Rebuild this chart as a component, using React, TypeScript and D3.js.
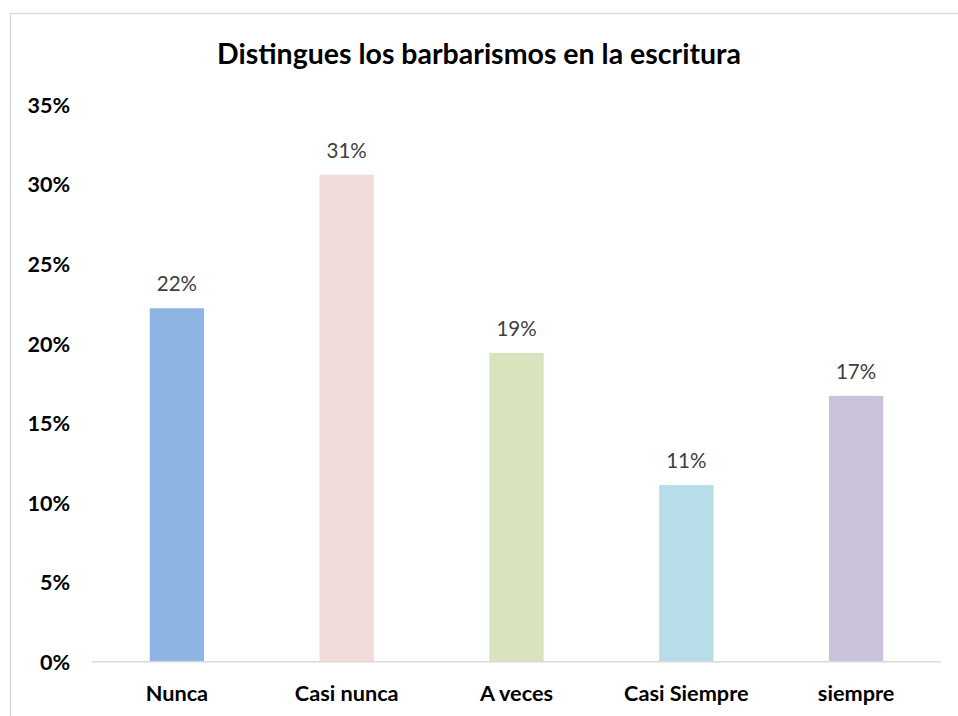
import React from "react";
import * as d3 from "d3";

const categories = ["Nunca", "Casi nunca", "A veces", "Casi Siempre", "siempre"];
const values = [22.2, 30.6, 19.4, 11.1, 16.7];
const dataLabels = ["22%", "31%", "19%", "11%", "17%"];
const colors = ["#8EB4E3", "#F2DCDB", "#D7E4BD", "#B7DEE8", "#CCC1DA"];
const yTicks = [0, 5, 10, 15, 20, 25, 30, 35];
const title = "Distingues los barbarismos en la escritura";

const W = 958;
const H = 716;
const FONT = "Lato, 'Open Sans', 'Liberation Sans', sans-serif";

export default function App() {
  const x = d3
    .scaleBand<string>()
    .domain(categories)
    .range([92, 941])
    .paddingInner(0.68)
    .paddingOuter(0.34);
  const y = d3.scaleLinear().domain([0, 35]).range([661.7, 104.5]);

  return (
    <svg
      width={W}
      height={H}
      style={{ position: "absolute", left: 0, top: 0, background: "#fff" }}
    >
      <rect x={0} y={0} width={W} height={H} fill="#fff" />
      <rect
        x={10.5}
        y={13.5}
        width={W + 20}
        height={H + 20}
        fill="none"
        stroke="#d9d9d9"
        strokeWidth={1.3}
      />
      <text
        x={479}
        y={63.5}
        textAnchor="middle"
        fontFamily={FONT}
        fontWeight="bold"
        fontSize={28.5}
        fill="#000"
      >
        {title}
      </text>
      {yTicks.map((t) => (
        <text
          key={t}
          x={70}
          y={y(t) + 8.3}
          textAnchor="end"
          fontFamily={FONT}
          fontWeight="bold"
          fontSize={21.5}
          fill="#000"
        >
          {t + "%"}
        </text>
      ))}
      {categories.map((c, i) => (
        <g key={c}>
          <rect
            x={x(c)}
            y={y(values[i])}
            width={x.bandwidth()}
            height={y(0) - y(values[i])}
            fill={colors[i]}
          />
          <text
            x={(x(c) as number) + x.bandwidth() / 2}
            y={y(values[i]) - 17}
            textAnchor="middle"
            fontFamily={FONT}
            fontSize={20.5}
            fill="#404040"
          >
            {dataLabels[i]}
          </text>
          <text
            x={(x(c) as number) + x.bandwidth() / 2}
            y={700.7}
            textAnchor="middle"
            fontFamily={FONT}
            fontWeight="bold"
            fontSize={21.7}
            fill="#000"
          >
            {c}
          </text>
        </g>
      ))}
      <line
        x1={92}
        x2={941}
        y1={y(0)}
        y2={y(0)}
        stroke="#d9d9d9"
        strokeWidth={1.5}
      />
    </svg>
  );
}
